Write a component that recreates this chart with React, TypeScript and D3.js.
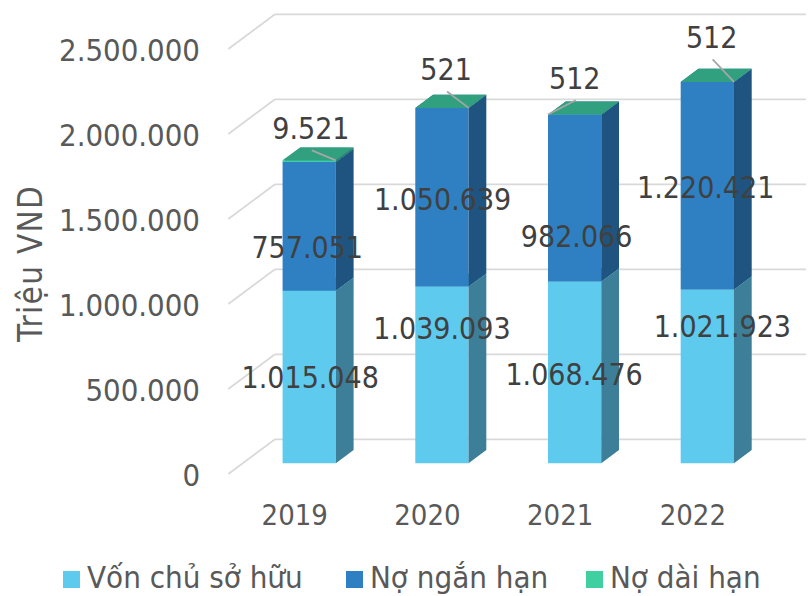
import React from "react";
import * as d3 from "d3";

const years = ["2019", "2020", "2021", "2022"];
const equity = [1015048, 1039093, 1068476, 1021923];
const shortDebt = [757051, 1050639, 982066, 1220421];
const longDebt = [9521, 521, 512, 512];
const yTicks = [0, 500000, 1000000, 1500000, 2000000, 2500000];
const seriesNames = ["Vốn chủ sở hữu", "Nợ ngắn hạn", "Nợ dài hạn"];
const yTitle = "Triệu VND";

// layout / style
const W = 810;
const H = 596;
const FONT = "'DejaVu Sans Condensed', 'DejaVu Sans', sans-serif";
const DX = 46.7;
const DY = 34.7;
const Z0 = 0.31;
const Z1 = 0.69;
const colors = [
  { front: "#5ECAEE", side: "#3D7F98", top: "#4FB2D4" },
  { front: "#2E80C2", side: "#1F5480", top: "#266CA6" },
  { front: "#40CFA0", side: "#2A8468", top: "#31A07F" },
];
const legendColors = ["#5ECAEE", "#2E80C2", "#40CFA0"];
const legendX = [63, 346, 586];
// label nudges (px) relative to segment middle on the bar front
const equityNudge = [[1, 0], [0, -46.6], [-0.5, 1.6], [15, -50]];
const shortNudge = [[-2, 21], [0.7, 1.7], [2, 38.2], [-1.6, 1.5]];
// top label nudges (to baseline) relative to top-front-right corner
const topNudge = [[-25, -21], [-22.5, -27.4], [-26.5, -25.3], [-22.3, -33.6]];
const leaderToLeft = [false, false, true, false];

const fmt = d3.formatLocale({ decimal: ",", thousands: ".", grouping: [3], currency: ["", ""] }).format(",d");

export default function App() {
  const x = d3
    .scaleBand<string>()
    .domain(years)
    .range([228.3, 759.3])
    .paddingInner(0.5985)
    .paddingOuter(0.3);
  const y = d3.scaleLinear().domain([0, 2500000]).range([474, 49]);
  const bw = x.bandwidth();
  const P = (px: number, v: number, z: number): [number, number] => [px + z * DX, y(v) - z * DY];
  const pts = (arr: [number, number][]) => arr.map((p) => p.join(",")).join(" ");

  const stacks = years.map((_, i) => {
    const a = equity[i];
    const b = a + shortDebt[i];
    const c = b + longDebt[i];
    return [
      [0, a],
      [a, b],
      [b, c],
    ];
  });

  const dx = (Z1 - Z0) * DX;
  const dyv = (Z1 - Z0) * DY;
  const xr = x.range();

  return (
    <svg width={W} height={H} style={{ position: "absolute", left: 0, top: 0, background: "#fff" }}>
      {/* gridlines */}
      {yTicks.map((t) => {
        const f = P(xr[0], t, 0);
        const b = P(xr[0], t, 1);
        return (
          <g key={t}>
            <line x1={f[0]} y1={f[1]} x2={b[0]} y2={b[1]} stroke="#D9D9D9" strokeWidth={1.8} />
            <line x1={b[0]} y1={b[1]} x2={xr[1] + DX} y2={b[1]} stroke="#D9D9D9" strokeWidth={1.8} />
            <text x={200} y={f[1] + 12} textAnchor="end" fontFamily={FONT} fontSize={30.8} fill="#595959">
              {fmt(t)}
            </text>
          </g>
        );
      })}
      {/* bars */}
      {years.map((yr, i) => {
        const x0 = x(yr)!;
        return (
          <g key={yr}>
            {stacks[i].map(([lo, hi], s) => {
              const fl = P(x0, lo, Z0);
              const fr = P(x0 + bw, lo, Z0);
              const tl = P(x0, hi, Z0);
              const tr = P(x0 + bw, hi, Z0);
              const c = colors[s];
              return (
                <g key={s}>
                  <polygon points={pts([fl, fr, tr, tl])} fill={c.front} />
                  <polygon
                    points={pts([fr, [fr[0] + dx, fr[1] - dyv], [tr[0] + dx, tr[1] - dyv], tr])}
                    fill={c.side}
                  />
                  <polygon
                    points={pts([tl, tr, [tr[0] + dx, tr[1] - dyv], [tl[0] + dx, tl[1] - dyv]])}
                    fill={c.top}
                  />
                </g>
              );
            })}
          </g>
        );
      })}
      {/* data labels */}
      {years.map((yr, i) => {
        const x0 = x(yr)!;
        const cx = x0 + Z0 * DX + bw / 2;
        const [e, s, l] = stacks[i];
        const midE = y((e[0] + e[1]) / 2) - Z0 * DY;
        const midS = y((s[0] + s[1]) / 2) - Z0 * DY;
        const cornerR = P(x0 + bw, l[1], Z0);
        const cornerL = P(x0, l[1], Z0);
        const tx = cornerR[0] + topNudge[i][0];
        const ty = cornerR[1] + topNudge[i][1];
        const end = leaderToLeft[i] ? cornerL : cornerR;
        const txt = { fontFamily: FONT, fontSize: 30, fill: "#404040", textAnchor: "middle" as const };
        return (
          <g key={"l" + yr}>
            <text x={cx + equityNudge[i][0]} y={midE + equityNudge[i][1] + 11} {...txt}>
              {fmt(equity[i])}
            </text>
            <text x={cx + shortNudge[i][0]} y={midS + shortNudge[i][1] + 11} {...txt}>
              {fmt(shortDebt[i])}
            </text>
            <line x1={tx + 1} y1={ty + 11} x2={end[0]} y2={end[1]} stroke="#A6A6A6" strokeWidth={1.8} />
            <text x={tx} y={ty} {...txt}>
              {fmt(longDebt[i])}
            </text>
          </g>
        );
      })}
      {/* category labels */}
      {years.map((yr) => (
        <text
          key={"c" + yr}
          x={x(yr)! + bw / 2}
          y={525}
          textAnchor="middle"
          fontFamily={FONT}
          fontSize={29}
          fill="#595959"
        >
          {yr}
        </text>
      ))}
      {/* axis title */}
      <text
        transform={`translate(42,264) rotate(-90)`}
        textAnchor="middle"
        fontFamily={FONT}
        fontSize={33}
        fill="#595959"
        textLength={156}
        lengthAdjust="spacing"
      >
        {yTitle}
      </text>
      {/* legend */}
      {seriesNames.map((n, k) => {
        const lx = legendX[k];
        return (
          <g key={n}>
            <rect x={lx} y={571} width={17} height={17} fill={legendColors[k]} />
            <text x={lx + 24} y={588} fontFamily={FONT} fontSize={31} fill="#595959">
              {n}
            </text>
          </g>
        );
      })}
    </svg>
  );
}
